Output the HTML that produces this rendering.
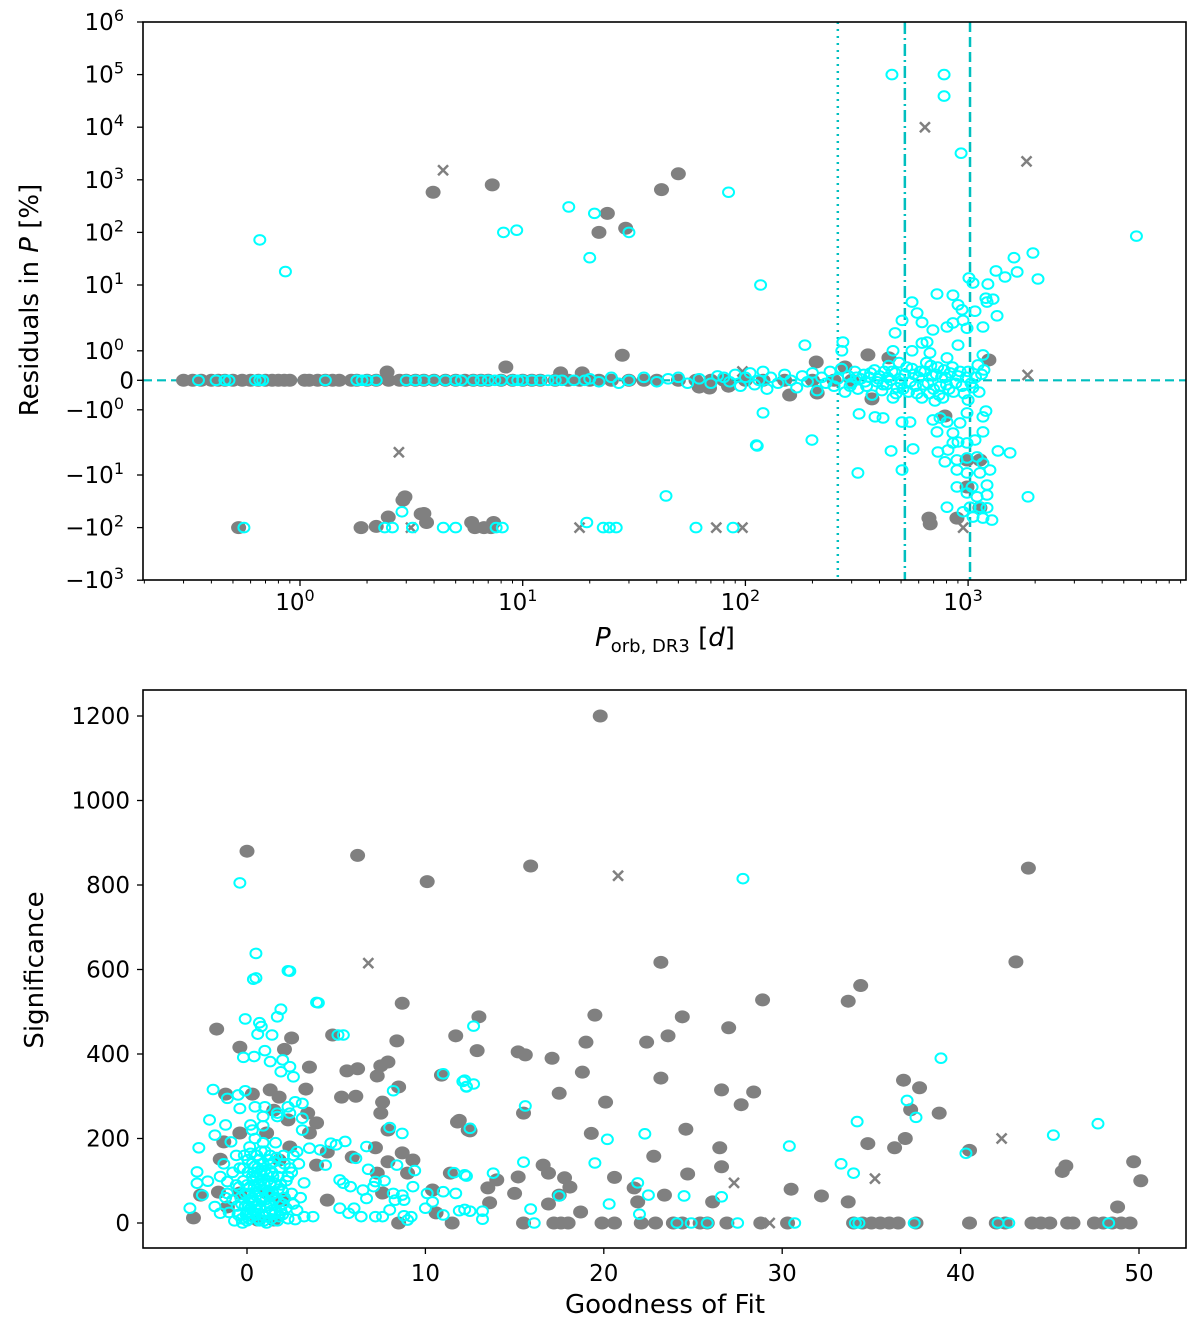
<!DOCTYPE html>
<html><head><meta charset="utf-8"><style>
html,body{margin:0;padding:0;background:#fff;}
svg{display:block;font-family:"DejaVu Sans","Liberation Sans",sans-serif;}
</style></head><body>
<svg id="fig" width="1200" height="1333" viewBox="0 0 1200 1333" xmlns="http://www.w3.org/2000/svg">
<rect width="1200" height="1333" fill="#fff"/>
<g id="topPanel"></g>
<g id="botPanel"></g>
</svg>
<script>
// ---------- data: top panel (x = P_orb [d], y = residual [%]) ----------
const topTickVals = [1e6,1e5,1e4,1e3,1e2,10,1,0,-1,-10,-1e2,-1e3];
const topXTickExps = [0,1,2,3];
const refLines = [260, 520, 1020];
const topGrey = [
[0.3,0],[0.33,0],[0.36,0],[0.4,0],[0.43,0],[0.46,0],[0.5,0],[0.55,0],[0.6,0],[0.65,0],[0.7,0],[0.75,0],[0.8,0],[0.85,0],[0.9,0],
[1.05,0],[1.1,0],[1.2,0],[1.3,0],[1.4,0],[1.5,0],[1.7,0],[1.8,0],[2,0],[2.2,0],[2.5,0],[2.8,0],[3,0],[3.3,0],[3.6,0],[4,0],[4.5,0],
[5,0],[5.5,0],[6,0],[6.5,0],[7,0],[8,0],[9,0],[10,0],[11,0],[12,0],[14,0],[16,0],[18,0],[20,0],[22,0],[25,0],[30,0],[35,0],[40,0],
[50,0],[60,0],[70,0],[80,0],[100,0],[120,0],[150,0],[200,0],[250,0],[300,0],
[2.46,0.28],[8.4,0.45],[28,0.85],[18.5,0.25],[14.8,0.25],[62,-0.23],[69,-0.26],[84,-0.2],[158,-0.5],[208,0.62],[210,-0.43],
[280,0.45],[355,0.86],[370,-0.63],[441,0.76],[787,-1.26],[1240,0.69],
[3.96,580],[7.3,800],[42,650],[50,1300],[24,230],[22,100],[29,120],
[2.96,-26],[3.6,-54],[0.53,-100],[1.88,-100],[2.2,-95],[2.49,-63],[2.9,-30],[3.5,-55],[3.7,-80],[5.9,-80],[6.7,-100],[7.4,-80],[6.1,-100],[7.2,-100],
[676,-85],[667,-66],[891,-66],[989,-5.9],[1130,-5.9],[989,-16.9],[1130,-42]
];
const topCross = [[4.39,1520],[640,10000],[1830,2240],[2.78,-4.5],[3.15,-100],[18,-100],[74,-100],[97,-100],[950,-100],[1850,0.18],[97,0.3]];
const topCyan = [
[0.35,0],[0.42,0],[0.46,0],[0.48,0],[0.63,0],[0.66,0],[0.68,0],[1.3,0],[1.8,0],[1.9,0],[2.0,0],[2.2,0],[3.0,0],[3.3,0],[3.6,0],[4.0,0],
[4.5,0],[5,0],[5.3,0],[6,0],[6.5,0],[7,0],[7.5,0],[8,0],[9,0],[9.5,0],[10,0],[11,0],[12,0],[13,0],[14,0],[15,0],[17,0],[19,0],
[20,0.05],[22,-0.05],[25,0.1],[27,-0.1],[30,0],[35,0.1],[40,-0.05],[45,0.05],[50,0.1],[55,-0.1],
[62,0.05],[70,-0.1],[75,0.15],[80,0.1],[85,-0.05],[90,0.2],[95,-0.2],[100,0.1],[105,0.25],[110,-0.15],[115,0],[120,0.3],[125,-0.3],
[130,0.1],[140,-0.1],[150,0.2],[160,0],[170,-0.25],[180,0.15],[190,-0.05],[200,0.25],[210,-0.35],[220,0.1],[230,-0.1],[240,0.3],
[250,-0.2],[260,0.05],[270,0.4],[280,-0.4],[290,0.15],[300,-0.1],[310,0.3],[320,-0.3],[330,0.05],[340,0.2],[350,-0.2],[360,0.1],
[370,-0.5],[380,0.35],[390,-0.05],[400,0.15],[410,-0.35],[420,0.3],[430,-0.15],[440,0.5],[450,0],[460,-0.6],[470,0.25],[480,-0.25],
[490,0.6],[500,-0.1],[520,0.2],[540,-0.4],[560,0.4],[580,-0.2],[600,0.1],[620,-0.6],[640,0.3],[660,-0.1],[680,0.5],[700,-0.3],
[720,0.2],[740,-0.5],[760,0.1],[780,0.35],[800,-0.15],[830,0.25],[860,-0.4],[900,0.15],[940,-0.2],[980,0.1],[1050,-0.25],[1150,0.2],
[295,-0.2],[315,0.1],[345,-0.05],[365,0.25],[395,0.05],[415,-0.15],[435,0.1],[455,0.3],[475,-0.45],[495,0.05],[510,-0.3],[530,0.45],
[550,-0.05],[570,0.2],[590,-0.45],[610,0.3],[630,-0.15],[650,0.6],[670,-0.45],[690,0.15],[710,-0.7],[730,0.45],[750,-0.2],[770,-0.6],
[790,0.1],[820,-0.3],[850,0.45],[880,-0.1],[920,0.3],[960,-0.45],[1000,0.3],[1030,-0.1],[1080,0.1],[1120,-0.4],
[0.66,72],[0.86,18],[16.1,305],[21,230],[20,33],[8.2,100],[9.4,110],[30,100],[84,580],[455,100000],[780,100000],[780,39000],
[930,3200],[117,10],[5700,85],[44,-25],[112,-3.5],[0.56,-100],[2.4,-100],[2.6,-100],[2.87,-50],[3.2,-100],[4.4,-100],[5.0,-100],
[7.6,-100],[8.1,-100],[19.4,-80],[23,-100],[24.5,-100],[26.3,-100],[60,-100],[88,-100],
[185,1.22],[274,1.36],[271,1.0],[120,-1.13],[113,-3.61],[199,-2.93],[320,-9.3],[505,-8.4],[451,-4.3],[566,-4.0],[324,-1.17],[382,-1.3],
[415,-1.35],[505,-1.56],[548,-1.56],
[560,5.5],[505,2.9],[590,3.75],[621,2.7],[470,1.87],[460,1.0],[695,2.07],[725,7.3],[855,7.0],[804,2.3],[855,2.65],[901,5.0],[939,4.2],
[949,2.9],[989,2.2],[901,1.22],[1009,13.6],[1052,10.9],[1074,4.0],[1166,2.3],[1227,10.4],[1202,6.3],[1294,6.1],[1216,5.5],[1349,3.4],
[1334,18.5],[1465,14.2],[1607,33],[1660,17.7],[1955,40.6],[2060,13],[560,1.0],[621,1.31],[654,1.36],[674,0.93],[804,0.76],[1166,0.86],
[1107,0.52],[1178,0.35],
[695,-1.45],[748,-1.35],[804,-1.56],[725,-2.2],[855,-2.29],[920,-1.61],[989,-1.13],[1000,-0.67],[1074,-2.93],[1166,-1.3],[1202,-1.06],
[1166,-2.2],[732,-4.46],[812,-4.16],[855,-3.25],[901,-3.14],[989,-3.25],[787,-6.3],[891,-5.9],[989,-5.5],[1097,-5.3],[1166,-6.6],
[1253,-8.4],[1362,-4.3],[1543,-4.6],[891,-8.4],[989,-9.3],[1130,-9.3],[891,-16.9],[1042,-16.9],[1216,-15.5],[989,-22],[1097,-26],
[1216,-24],[804,-41],[949,-50],[1020,-41],[1130,-41],[1216,-42],[1052,-63],[1166,-66],[1279,-72],[1858,-26]
];

// ---------- data: bottom panel (x = goodness of fit, y = significance) ----------
const botXTicks = [0,10,20,30,40,50];
const botYTicks = [0,200,400,600,800,1000,1200];
const botGrey = [
[0,880],[6.2,870],[10.1,808],[15.9,845],[23.2,617],[19.8,1200],[43.8,840],[43.1,618],[33.7,525],[34.4,562],[28.9,528],[27,462],
[24.4,488],[22.4,428],[23.6,443],[19.5,492],[13,488],[11.7,443],[-1.7,459],[-0.4,416],[2.5,438],[2.1,411],[4.8,445],[8.7,520],[8.4,431],
[6.2,365],[12.9,408],[15.2,405],[15.6,398],[17.1,390],[19,428],[18.8,357],[20.1,286],[23.2,343],[26.6,315],[28.4,310],[27.7,280],
[17.5,307],[15.5,260],[12.4,220],[11.9,243],[19.3,212],[24.6,222],[26.5,178],[22.8,158],[26.6,133],[24.7,116],[30.5,80],[32.2,64],
[33.7,50],[20.6,108],[16.6,137],[16.9,118],[17.8,107],[18.1,85],[17.5,66],[16.9,45],[18.7,26],[15.2,109],[15,70],[14,102],[13.5,83],
[13.6,48],[21.7,83],[21.9,50],[23.4,66],[26.1,50],
[37.7,320],[37.2,268],[36.8,338],[38.8,260],[36.9,200],[36.3,178],[34.8,188],[40.5,172],[45.9,135],[45.7,122],[49.7,145],[50.1,100],[48.8,38],
[3.5,369],[5.6,360],[7.5,372],[7.9,381],[7.3,348],[1.3,315],[1.8,298],[3.3,317],[5.3,298],[6.1,300],[7.6,286],[7.5,260],[7.9,220],
[8.5,322],[10.9,350],[11.8,239],[12.5,218],[-1.2,305],[0.3,305],[3.9,237],[3.4,260],[3.5,213],[2.3,244],[-1.3,192],[-1.5,151],[-1.6,73],
[-2.6,66],[-3,12],[7.2,178],[8.7,166],[9.3,149],[7.9,145],[5.9,156],[4.5,168],[3.9,137],[4.5,54],[7.3,118],[9,118],[11.4,118],[7.6,71],
[10.4,78],[10.6,24],[-0.4,213],[1.1,213],[1.5,267],[2.4,180],[1.8,149],[1.1,71],[-0.4,71],[-1.1,38],[0.6,7],[1.5,7],[2,54],
[8.5,0],[11.5,0],[15.5,0],[17.2,0],[17.6,0],[18,0],[19.9,0],[20.6,0],[22.1,0],[22.9,0],[23.9,0],[24.4,0],[25.4,0],[25.8,0],[26.9,0],
[28.8,0],[30.3,0],[34,0],[34.5,0],[35,0],[35.5,0],[36,0],[36.5,0],[37.5,0],[40.5,0],[42,0],[42.5,0],[44,0],[44.5,0],[45,0],[46,0],
[46.3,0],[47.5,0],[48,0],[48.5,0],[49,0],[49.5,0]
];
const botCross = [[6.8,615],[20.8,822],[27.3,95],[29.3,0],[35.2,105],[42.3,200]];
const botCyan = [
[-0.4,805],[0.5,638],[0.5,580],[2.3,597],[3.9,522],[27.8,815],[38.9,390],[40.3,165],[37,290],[37.5,250],[34.2,240],[33.3,140],[34,118],
[45.2,208],[47.7,235],[30.4,182],[5.4,445],[12.7,466],[12.2,338],[12.3,322],[12.7,329],[15.6,277],[20.2,198],[22.3,211],[19.5,142],
[15.5,144],[13.8,118],[12.3,111],[21.9,95],[22.5,66],[24.5,64],[26.6,62],[17.5,64],[20.3,45],[15.9,33],[22,21],[13.2,28],[13.2,9],
[12.5,28],[16.1,0],[24.1,0],[24.9,0],[25.8,0],[27.5,0],[30.7,0],[34.1,0],[34.3,0],[37.4,0],[42.1,0],[42.7,0],[48.3,0],
[0.36,577],[2.4,596],[4,521],[1.9,506],[1.7,488],[-0.1,483],[0.7,474],[0.8,465],[0.6,447],[1.4,445],[1.0,408],[-0.2,392],[0.4,394],
[1.3,382],[2,386],[1.9,358],[2.4,370],[2.6,346],[5.1,445],[-1.9,316],[-0.1,313],[-0.5,303],[-1.1,295],[-0.4,271],[0.45,275],[1,275],
[1.7,260],[2.3,275],[2.7,287],[3.1,283],[-2.1,244],[-1.2,232],[-1.8,208],[0.2,232],[0.3,220],[0.9,252],[1.7,252],[2.4,260],[3.1,248],
[3.1,220],[-0.9,192],[-2.7,178],[-2.8,121],[-2.8,94],[-3.2,35],[-2.5,66],[-2.2,99],[-1.8,39],[-1.5,23],[-1.1,98],[-1.1,70],[2.8,169],
[3.5,177],[4.1,173],[4.7,189],[5.0,185],[5.5,193],[4.4,137],[5.2,102],[5.4,94],[5.8,86],[6.1,153],[6.7,181],[6.8,127],[7.2,98],[7.1,86],
[7.7,100],[6.5,78],[6.7,58],[6,35],[5.2,35],[5.7,23],[6.4,15],[7.2,15],[7.6,15],[8.2,70],[8.7,66],[8.8,54],[8.3,54],[8,31],[8.8,17],
[9.2,15],[9,7],[8.4,137],[9.4,124],[9.3,86],[8.2,313],[8,226],[8.7,212],[11,353],[10.1,70],[10.4,50],[10,35],[11,74],[11.7,70],
[11.9,29],[12.2,32],[11,19],[12.1,335],[12.3,323],[11.6,119],[12.2,114],[12.5,224],[3.7,15],[3.2,15],
[-0.5,20],[-0.3,45],[-0.1,70],[0.1,10],[0.2,35],[0.3,60],[0.4,85],[0.5,110],[0.6,130],[0.7,150],[0.8,170],[0.9,190],[1.0,15],[1.1,40],
[1.2,65],[1.3,90],[1.4,120],[1.5,145],[1.6,25],[1.8,50],[2.0,75],[2.2,100],[2.4,130],[2.6,160],[2.8,30],[3.0,60],[3.2,95],[0,5],
[0.2,25],[0.4,50],[0.6,75],[0.8,100],[1.0,125],[1.2,150],[-0.2,100],[-0.4,130],[-0.6,160],[-0.8,55],[-1.0,25],[0.15,180],[0.45,200],
[0.7,5],[1.1,0],[1.7,5],[0.55,30],[0.85,55],[1.35,10],[1.9,30],[2.3,10],[2.7,8],[-0.7,5],[-0.25,0],[0.3,140],[0.65,95],[1.45,70],
[1.75,110],[2.1,140],[2.5,120],[0.05,120],[-0.15,160],[0.9,230],[1.6,190],[2.9,140],[-1.3,140],[-1.5,110],
[0.1,40],[0.3,15],[0.5,65],[0.7,35],[0.9,80],[1.3,45],[-0.3,10],[0.0,90],[0.2,165],[1.0,170],[2.0,20],[-0.6,90],[0.75,115],[1.55,95],
[0.0,25],[0.25,50],[0.5,20],[0.75,60],[1.0,90],[1.25,25],[1.5,55],[1.75,80],[2.0,45],[0.1,70],[0.35,100],[0.6,45],[0.85,20],[1.1,115],
[1.35,140],[1.6,60],[1.85,130],[2.1,60],[-0.35,60],[-0.1,40],[0.15,85],[0.4,120],[0.65,10],[0.9,140],[1.15,100],[1.4,30],[1.65,155],
[1.9,90],[2.2,35],[2.5,70],[-0.55,40],[-0.2,130],[0.05,150],[0.3,110],[0.55,160],[0.8,125],[1.05,55],[1.3,160],[1.55,20],[1.8,15],
[2.3,110],[2.6,45],[-0.8,120],[-1.2,60],[-0.45,85],[0.95,5],[1.25,75],[0.45,135],[0.15,55],[0.7,90],[1.45,110],[2.05,160],[-0.05,20]
];

// ---------- axis functions ----------
const NS = "http://www.w3.org/2000/svg";
function mk(tag, attrs, parent){ const e=document.createElementNS(NS,tag); for(const k in attrs) e.setAttribute(k,attrs[k]); parent.appendChild(e); return e; }
const TA = {l:143, r:1186, t:22, b:580};
const BA = {l:143, r:1186, t:690, b:1248};
function txTop(v){ return 300 + Math.log10(v)*222.7; }
function tyTop(v){
  const a=Math.abs(v), s=Math.sign(v);
  if(a<=1) return 380.3 - 29.5*v;
  const lg=Math.log10(a);
  if(s>0){ return lg<=1 ? 350.8-65.8*lg : 285-52.6*(lg-1); }
  return lg<=1 ? 409.4+65.6*lg : 475+52.6*(lg-1);
}
function txBot(v){ return 247 + v*17.84; }
function tyBot(v){ return 1223 - v*0.4225; }

const topG = document.getElementById('topPanel');
const botG = document.getElementById('botPanel');
const GREY="#808080", CYAN="#00ffff", TEAL="#00bfbf";

function supLabel(parent, x, y, base, exp, anchor, name){
  const t = mk('text',{x:x,y:y,'font-size':23,'text-anchor':anchor,fill:'#000'},parent);
  
  
  const b=document.createElementNS(NS,'tspan'); b.textContent=base; t.appendChild(b);
  if(exp!==null){ const e=document.createElementNS(NS,'tspan'); e.setAttribute('dy',-9); e.setAttribute('font-size',16); e.textContent=exp; t.appendChild(e); }
  return t;
}

// ----- top panel -----
const zl=mk('line',{x1:TA.l,x2:TA.r,y1:tyTop(0),y2:tyTop(0),stroke:TEAL,'stroke-width':2.2,'stroke-dasharray':'9,5'},topG);


const lineStyles=['2,5','12,4,2,4','10,5'];
refLines.forEach((p,i)=>{
  const l=mk('line',{x1:txTop(p),x2:txTop(p),y1:TA.t,y2:TA.b,stroke:TEAL,'stroke-width':2.5,'stroke-dasharray':lineStyles[i]},topG);
  
  
});
topGrey.forEach(d=>{
  const c=mk('ellipse',{cx:txTop(d[0]),cy:tyTop(d[1]),rx:7.5,ry:6.5,fill:GREY},topG);
  
  
});
topCross.forEach(d=>{
  const x=txTop(d[0]), y=tyTop(d[1]);
  const p=mk('path',{d:`M${x-5},${y-5}L${x+5},${y+5}M${x-5},${y+5}L${x+5},${y-5}`,stroke:GREY,'stroke-width':2.5},topG);
  
  
});
topCyan.forEach(d=>{
  const c=mk('ellipse',{cx:txTop(d[0]),cy:tyTop(d[1]),rx:5.5,ry:4.8,fill:'none',stroke:CYAN,'stroke-width':2},topG);
  
  
});
const tf=mk('rect',{x:TA.l,y:TA.t,width:TA.r-TA.l,height:TA.b-TA.t,fill:'none',stroke:'#000','stroke-width':1.6},topG);


topTickVals.forEach(v=>{
  const y=tyTop(v);
  mk('line',{x1:TA.l-6,x2:TA.l,y1:y,y2:y,stroke:'#000','stroke-width':1.3},topG);
  if(v===0) supLabel(topG,134,y+8,'0',null,'end','y-tick-label');
  else { const e=Math.round(Math.log10(Math.abs(v))); supLabel(topG,124,y+8,(v<0?'\u221210':'10'),String(e),'end','y-tick-label'); }
});
for(let e=-1;e<=3;e++){
  for(let m=1;m<10;m++){
    const v=m*Math.pow(10,e), x=txTop(v);
    if(x<TA.l||x>TA.r) continue;
    mk('line',{x1:x,x2:x,y1:TA.b,y2:TA.b+(m===1?6:3.5),stroke:'#000','stroke-width':(m===1?1.3:1)},topG);
  }
}
topXTickExps.forEach(e=>{ supLabel(topG,txTop(Math.pow(10,e))-5,610,'10',String(e),'middle','x-tick-label'); });
const xl=mk('text',{x:665,y:646,'font-size':26,'text-anchor':'middle'},topG);


xl.innerHTML='<tspan font-style="italic">P</tspan><tspan font-size="18" dy="6">orb, DR3</tspan><tspan dy="-6"> [</tspan><tspan font-style="italic">d</tspan>]';
const yl=mk('text',{x:0,y:0,'font-size':26,'text-anchor':'middle',transform:'translate(38,300) rotate(-90)'},topG);


yl.innerHTML='Residuals in <tspan font-style="italic">P</tspan> [%]';

// ----- bottom panel -----
botGrey.forEach(d=>{
  const c=mk('ellipse',{cx:txBot(d[0]),cy:tyBot(d[1]),rx:7.5,ry:6.5,fill:GREY},botG);
  
  
});
botCross.forEach(d=>{
  const x=txBot(d[0]), y=tyBot(d[1]);
  const p=mk('path',{d:`M${x-5},${y-5}L${x+5},${y+5}M${x-5},${y+5}L${x+5},${y-5}`,stroke:GREY,'stroke-width':2.5},botG);
  
  
});
botCyan.forEach(d=>{
  const c=mk('ellipse',{cx:txBot(d[0]),cy:tyBot(d[1]),rx:5.5,ry:4.8,fill:'none',stroke:CYAN,'stroke-width':2},botG);
  
  
});
const bf=mk('rect',{x:BA.l,y:BA.t,width:BA.r-BA.l,height:BA.b-BA.t,fill:'none',stroke:'#000','stroke-width':1.6},botG);


botXTicks.forEach(v=>{
  const x=txBot(v);
  mk('line',{x1:x,x2:x,y1:BA.b,y2:BA.b+6,stroke:'#000','stroke-width':1.3},botG);
  supLabel(botG,x,1281,String(v),null,'middle','x-tick-label');
});
botYTicks.forEach(v=>{
  const y=tyBot(v);
  mk('line',{x1:BA.l-6,x2:BA.l,y1:y,y2:y,stroke:'#000','stroke-width':1.3},botG);
  supLabel(botG,130,y+8,String(v),null,'end','y-tick-label');
});
const bxl=mk('text',{x:665,y:1313,'font-size':26,'text-anchor':'middle'},botG);


bxl.textContent='Goodness of Fit';
const byl=mk('text',{x:0,y:0,'font-size':26,'text-anchor':'middle',transform:'translate(43,970) rotate(-90)'},botG);


byl.textContent='Significance';
</script>
</body></html>
